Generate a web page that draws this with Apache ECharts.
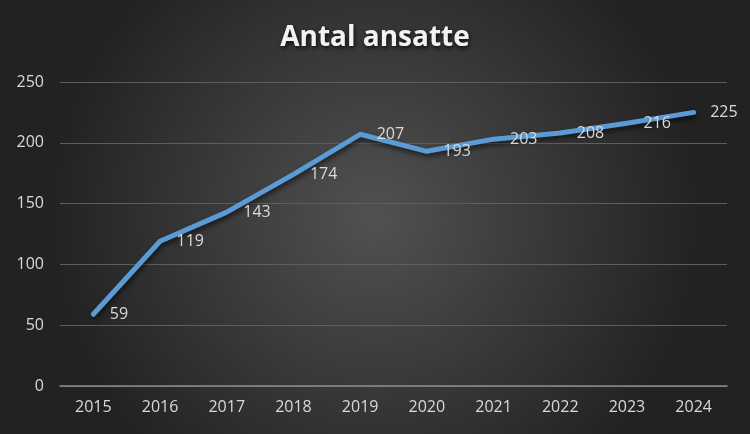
<!DOCTYPE html>
<html><head><meta charset="utf-8">
<script src="https://cdn.jsdelivr.net/npm/echarts@6/dist/echarts.min.js"></script>
<style>html,body{margin:0;padding:0;background:#333;}#c{width:750px;height:434px;}</style>
</head><body><div id="c"></div>
<script>
const categories = ['2015','2016','2017','2018','2019','2020','2021','2022','2023','2024'];
const values = [59,119,143,174,207,193,203,208,216,225];
const titleText = 'Antal ansatte';
const FONT = '"Open Sans", "Liberation Sans", sans-serif';
const chart = echarts.init(document.getElementById('c'));
chart.setOption({
  backgroundColor: {
    type: 'radial', x: 0.5, y: 0.5, r: 0.75,
    colorStops: [{offset: 0, color: '#515151'}, {offset: 1, color: '#222222'}]
  },
  title: {
    text: titleText, left: 'center', top: 19,
    textStyle: {color: '#f2f2f2', fontSize: 28, fontWeight: 'bold', fontFamily: FONT,
      textShadowColor: 'rgba(0,0,0,0.8)', textShadowBlur: 4, textShadowOffsetX: 1, textShadowOffsetY: 2}
  },
  grid: {left: 60, right: 23, top: 82, bottom: 48},
  xAxis: {
    type: 'category', data: categories, boundaryGap: true,
    axisLine: {lineStyle: {color: '#8c8c8c', width: 1.5}},
    axisTick: {show: false},
    axisLabel: {color: '#d9d9d9', fontSize: 16, fontFamily: FONT, margin: 13}
  },
  yAxis: {
    type: 'value', min: 0, max: 250, interval: 50,
    axisLine: {show: false}, axisTick: {show: false},
    splitLine: {lineStyle: {color: '#5e5e5e', width: 1}},
    axisLabel: {color: '#d9d9d9', fontSize: 16, fontFamily: FONT, margin: 16}
  },
  series: [{
    type: 'line', data: values, symbol: 'circle', symbolSize: 1, showSymbol: true,
    itemStyle: {color: 'rgba(0,0,0,0)'},
    lineStyle: {color: '#5b9bd5', width: 5, cap: 'round', join: 'round',
      shadowColor: 'rgba(0,0,0,0.6)', shadowBlur: 5, shadowOffsetX: 1, shadowOffsetY: 3},
    label: {show: true, position: 'right', distance: 16, color: '#d9d9d9', fontSize: 16, fontFamily: FONT},
    labelLayout: {hideOverlap: false},
    silent: true, animation: false
  }]
});
</script></body></html>
